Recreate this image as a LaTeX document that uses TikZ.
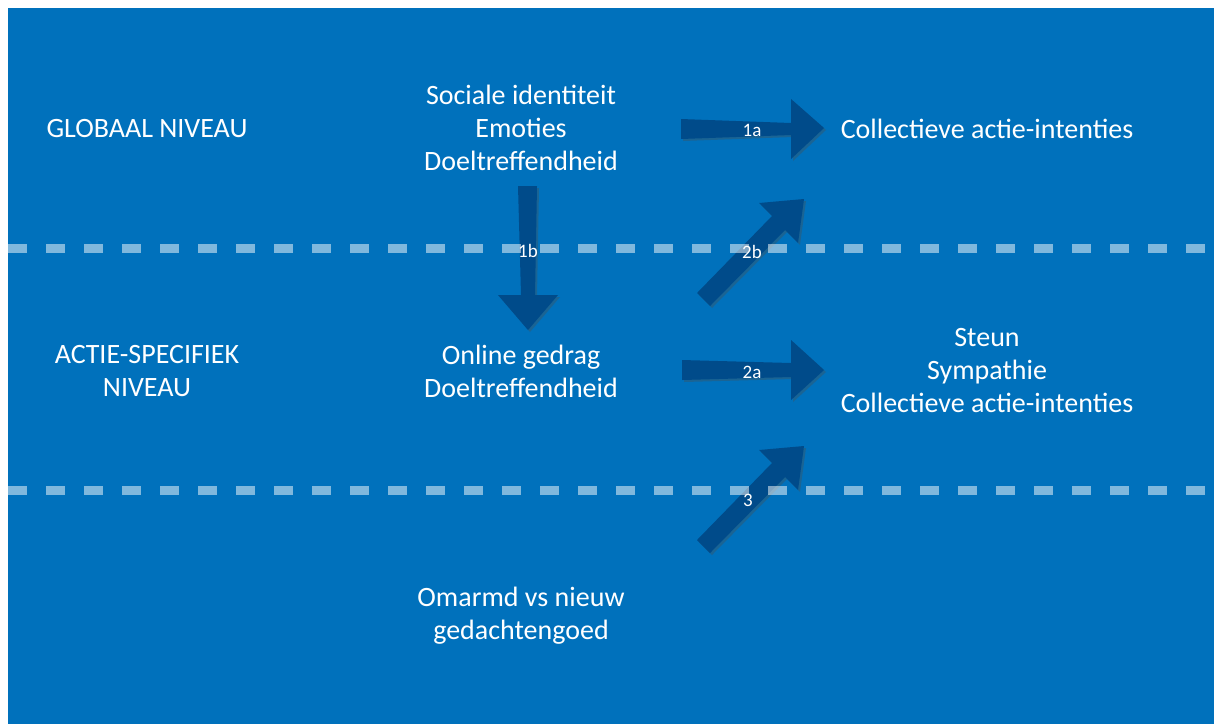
\documentclass[tikz,border=0pt]{standalone}
\usepackage{fontspec}
\setmainfont{Carlito}
\usetikzlibrary{shadows}
\definecolor{bg}{HTML}{0071BC}
\definecolor{arr}{HTML}{004B8A}
\tikzset{
  txt/.style={text=white, align=center, font=\fontsize{28}{33}\selectfont, inner sep=0pt},
  lbl/.style={text=white, font=\fontsize{19}{22}\selectfont, inner sep=0pt},
  blockarrow/.style={fill=arr, draw=none, drop shadow={shadow xshift=2pt, shadow yshift=-2pt, opacity=0.35, fill=black!70}},
  divider/.style={draw=white, draw opacity=0.5, line width=9pt, dash pattern=on 19pt off 19pt}
}
\begin{document}
\begin{tikzpicture}[x=1pt,y=-1pt]
\useasboundingbox (0,0) rectangle (1214,724);
\fill[bg] (8,8) rectangle (1214,724);

% block arrows
\path[blockarrow] (681,119) -- (791,123) -- (791,99) -- (824,128) -- (791,159) -- (791,135) -- (681,139) -- cycle;
\path[blockarrow] (682,360) -- (791,363) -- (791,340) -- (824,370) -- (791,400) -- (791,377) -- (682,380) -- cycle;
\path[blockarrow] (518,186) -- (537,186) -- (535,295) -- (558,295) -- (528,330) -- (498,295) -- (521,295) -- cycle;
\path[blockarrow] (697,293) -- (772,216) -- (759,203) -- (804,199) -- (798,243) -- (785,230) -- (710,306) -- cycle;
\path[blockarrow] (697,540) -- (772,463) -- (759,450) -- (804,446) -- (798,490) -- (785,477) -- (710,553) -- cycle;

% dividers
\coordinate (d1l) at (8,248); \coordinate (d1r) at (1214,248);
\coordinate (d2l) at (8,490); \coordinate (d2r) at (1214,490);
\draw[divider] (d1l) -- (d1r);
\draw[divider] (d2l) -- (d2r);

% texts
\node[txt] (glob) at (147,129) {GLOBAAL NIVEAU};
\node[txt] (spec) at (147,371) {ACTIE-SPECIFIEK\\NIVEAU};
\node[txt] (soc) at (521,128) {Sociale identiteit\\Emoties\\Doeltreffendheid};
\node[txt] (onl) at (521,371) {Online gedrag\\Doeltreffendheid};
\node[txt] (oma) at (521,616) {Omarmd vs nieuw\\gedachtengoed};
\node[txt] (coll) at (987,129) {Collectieve actie-intenties};
\node[txt] (steun) at (987,371) {Steun\\Sympathie\\Collectieve actie-intenties};

% labels
\node[lbl] (l1a) at (752,130) {1a};
\node[lbl] (l1b) at (528,251) {1b};
\node[lbl] (l2b) at (752,252) {2b};
\node[lbl] (l2a) at (752,372) {2a};
\node[lbl] (l3) at (748,500) {3};
\end{tikzpicture}
\end{document}
